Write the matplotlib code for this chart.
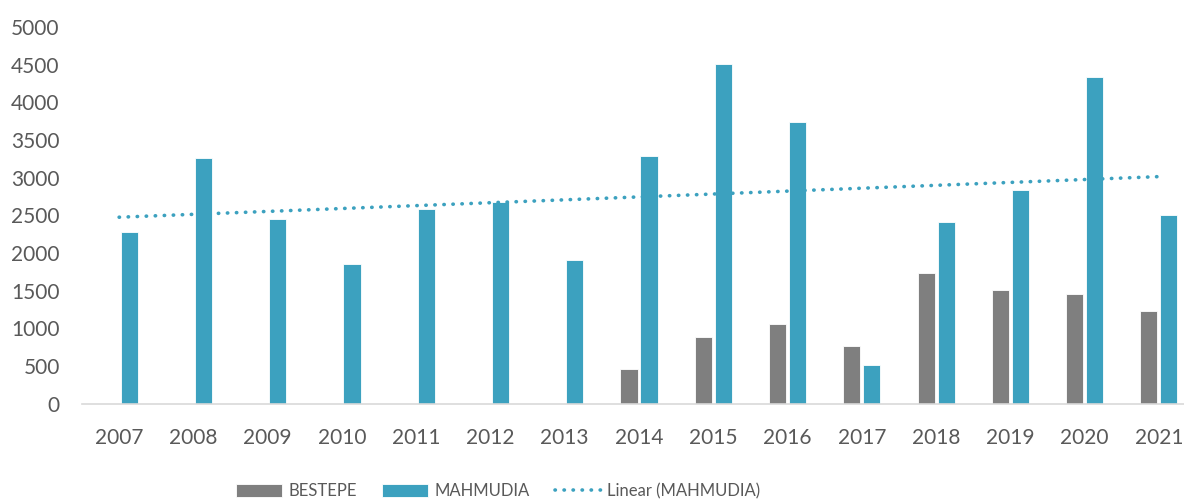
import numpy as np
import matplotlib
matplotlib.use("Agg")
import matplotlib.pyplot as plt

# veri
years = ["2007", "2008", "2009", "2010", "2011", "2012", "2013", "2014",
         "2015", "2016", "2017", "2018", "2019", "2020", "2021"]
bestepe = [0, 0, 0, 0, 0, 0, 0, 458, 883, 1056, 768, 1733, 1507, 1450, 1224]
mahmudia = [2274, 3264, 2446, 1848, 2583, 2680, 1906, 3291, 4513, 3742,
            511, 2415, 2840, 4340, 2499]

gray = "#7F7F7F"
teal = "#3CA1BF"
txt = "#595959"

plt.rcParams["font.family"] = ["Lato", "DejaVu Sans"]

fig = plt.figure(figsize=(11.84, 5.0), dpi=100)
ax = fig.add_axes([82 / 1184, 96.5 / 500, 1114 / 1184, 376.5 / 500])

x = np.arange(len(years))
w = 0.23
off = 0.135
bb = [v if v > 0 else np.nan for v in bestepe]
b1 = ax.bar(x - off, bb, w, color=gray, edgecolor="white", linewidth=0.6, label="BESTEPE")
b2 = ax.bar(x + off, mahmudia, w, color=teal, edgecolor="white", linewidth=0.6, label="MAHMUDIA")

# doğrusal eğilim çizgisi
k, b = np.polyfit(x, mahmudia, 1)
ln, = ax.plot(x, k * x + b, color=teal, linewidth=2.6, linestyle=(0, (0.1, 2.4)),
              dash_capstyle="round", label="Linear (MAHMUDIA)")

ax.set_xlim(-0.5, len(years) - 0.5)
ax.set_ylim(0, 5000)
ax.set_yticks(range(0, 5001, 500))
ax.set_xticks(x)
ax.set_xticklabels(years)
ax.tick_params(axis="both", length=0, labelsize=15, labelcolor=txt)
ax.tick_params(axis="y", pad=16)
ax.tick_params(axis="x", pad=18)

for s in ["top", "right", "left"]:
    ax.spines[s].set_visible(False)
ax.spines["bottom"].set_color("#D9D9D9")
ax.spines["bottom"].set_linewidth(1.2)

leg = fig.legend([b1, b2, ln], ["BESTEPE", "MAHMUDIA", "Linear (MAHMUDIA)"],
                 loc="center", bbox_to_anchor=(498 / 1184, 1 - 491 / 500), ncol=3,
                 frameon=False, fontsize=12, handlelength=2.8, handleheight=0.84,
                 handletextpad=0.35, columnspacing=1.5, borderpad=0)
for t in leg.get_texts():
    t.set_color(txt)

plt.savefig("out.png", dpi=100)
